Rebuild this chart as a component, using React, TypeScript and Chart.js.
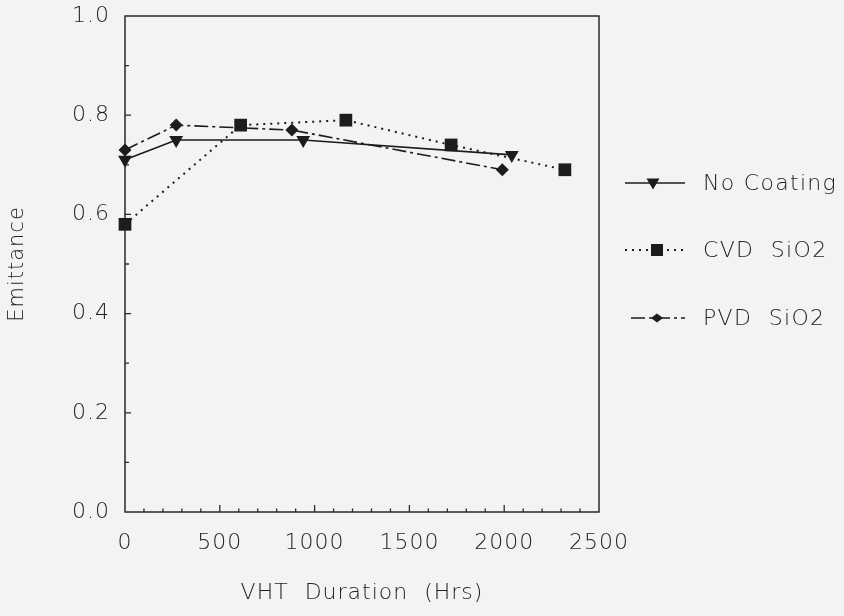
import React, { useEffect, useRef } from 'react';
import { Chart, registerables } from 'chart.js';

Chart.register(...registerables);

// ---- data ----
const seriesNames = ['No Coating', 'CVD  SiO2', 'PVD  SiO2'];
const noCoatingX = [0, 270, 940, 2040];
const noCoatingY = [0.71, 0.75, 0.75, 0.72];
const cvdX = [0, 610, 1165, 1720, 2320];
const cvdY = [0.58, 0.78, 0.79, 0.74, 0.69];
const pvdX = [0, 270, 880, 1990];
const pvdY = [0.73, 0.78, 0.77, 0.69];
const xTickValues = [0, 500, 1000, 1500, 2000, 2500];
const yTickValues = [0.0, 0.2, 0.4, 0.6, 0.8, 1.0];
const xTitle = 'VHT  Duration  (Hrs)';
const yTitle = 'Emittance';

const INK = '#1c1c1c';
const TEXT = '#222222';
const FONT = 'DejaVu Sans';
const WEIGHT = 300;

const toPoints = (xs: number[], ys: number[]) => xs.map((x, i) => ({ x, y: ys[i] }));

function drawMarker(ctx: CanvasRenderingContext2D, style: string, x: number, y: number) {
  ctx.beginPath();
  if (style === 'triangle') {
    ctx.moveTo(x - 6.5, y - 4.5);
    ctx.lineTo(x + 6.5, y - 4.5);
    ctx.lineTo(x, y + 6.5);
    ctx.closePath();
  } else if (style === 'rect') {
    ctx.rect(x - 6, y - 6, 12, 12);
  } else {
    ctx.moveTo(x - 6, y);
    ctx.lineTo(x, y - 4.5);
    ctx.lineTo(x + 6, y);
    ctx.lineTo(x, y + 4.5);
    ctx.closePath();
  }
  ctx.fill();
}

const backgroundPlugin = {
  id: 'paper',
  beforeDraw(chart: any) {
    const ctx = chart.ctx as CanvasRenderingContext2D;
    ctx.save();
    ctx.fillStyle = '#f3f3f3';
    ctx.fillRect(0, 0, chart.width, chart.height);
    ctx.restore();
    (ctx as any).letterSpacing = '1px';
  },
};

const framePlugin = {
  id: 'frame',
  beforeDatasetsDraw(chart: any) {
    const ctx = chart.ctx as CanvasRenderingContext2D;
    const { left, right, top, bottom } = chart.chartArea;
    const xs = chart.scales.x;
    const ys = chart.scales.y;
    ctx.save();
    ctx.strokeStyle = '#2a2a2a';
    ctx.lineWidth = 1.5;
    ctx.strokeRect(left, top, right - left, bottom - top);
    ctx.lineWidth = 1.3;
    ctx.beginPath();
    for (let v = 100; v < 2500; v += 100) {
      const px = xs.getPixelForValue(v);
      const len = v % 500 === 0 ? 7 : 3.5;
      ctx.moveTo(px, bottom);
      ctx.lineTo(px, bottom - len);
    }
    for (let k = 1; k < 10; k++) {
      const py = ys.getPixelForValue(k / 10);
      const len = k % 2 === 0 ? 6 : 4;
      ctx.moveTo(left, py);
      ctx.lineTo(left + len, py);
    }
    ctx.stroke();
    ctx.restore();
  },
};

const legendPlugin = {
  id: 'sideLegend',
  afterDraw(chart: any) {
    const ctx = chart.ctx as CanvasRenderingContext2D;
    const rows = [183, 250, 318];
    const styles = ['triangle', 'rect', 'rectRot'];
    chart.data.datasets.forEach((ds: any, i: number) => {
      const y = rows[i];
      ctx.save();
      ctx.strokeStyle = INK;
      ctx.fillStyle = INK;
      ctx.lineWidth = ds.borderWidth;
      ctx.setLineDash(ds.borderDash || []);
      ctx.beginPath();
      ctx.moveTo(i === 2 ? 631 : 625, y);
      ctx.lineTo(685, y);
      ctx.stroke();
      ctx.setLineDash([]);
      drawMarker(ctx, styles[i], i === 0 ? 653 : 657, y);
      ctx.fillStyle = TEXT;
      (ctx as any).letterSpacing = '1.3px';
      ctx.font = `${WEIGHT} 22px "${FONT}"`;
      ctx.textBaseline = 'middle';
      ctx.textAlign = 'left';
      ctx.fillText(ds.label, 703, y + 1);
      ctx.restore();
    });
  },
};

export default function App() {
  const ref = useRef<HTMLCanvasElement>(null);

  useEffect(() => {
    if (!ref.current) return;
    const chart = new Chart(ref.current, {
      type: 'line',
      data: {
        datasets: [
          {
            label: seriesNames[0],
            data: toPoints(noCoatingX, noCoatingY),
            borderColor: INK,
            backgroundColor: INK,
            borderWidth: 1.6,
            pointStyle: 'triangle',
            pointRotation: 180,
            pointRadius: 8,
            pointBorderWidth: 0,
            pointBackgroundColor: INK,
            clip: false,
          } as any,
          {
            label: seriesNames[1],
            data: toPoints(cvdX, cvdY),
            borderColor: INK,
            backgroundColor: INK,
            borderWidth: 2,
            borderDash: [2, 5],
            pointStyle: 'rect',
            pointRadius: 9,
            pointBorderWidth: 0,
            pointBackgroundColor: INK,
            clip: false,
          } as any,
          {
            label: seriesNames[2],
            data: toPoints(pvdX, pvdY),
            borderColor: INK,
            backgroundColor: INK,
            borderWidth: 1.6,
            borderDash: [14, 4, 3, 4],
            pointStyle: 'rectRot',
            pointRadius: 6.5,
            pointBorderWidth: 0,
            pointBackgroundColor: INK,
            clip: false,
          } as any,
        ],
      },
      options: {
        animation: false,
        responsive: false,
        devicePixelRatio: 1,
        layout: { padding: { left: 0, top: 16, right: 245, bottom: 0 } },
        plugins: { legend: { display: false }, tooltip: { enabled: false } },
        elements: { line: { tension: 0 } },
        scales: {
          x: {
            type: 'linear',
            min: 0,
            max: 2500,
            afterFit: (s: any) => {
              s.height = 104;
              s.paddingLeft = 0;
              s.paddingRight = 0;
            },
            afterBuildTicks: (s: any) => { s.ticks = xTickValues.map((v) => ({ value: v })); },
            grid: { display: false, drawTicks: false },
            border: { display: false },
            ticks: {
              autoSkip: false,
              maxRotation: 0,
              padding: 18,
              color: TEXT,
              font: { family: FONT, size: 22, weight: WEIGHT },
              callback: (v: any) => String(v),
            },
            title: {
              display: true,
              text: xTitle,
              color: TEXT,
              font: { family: FONT, size: 22, weight: WEIGHT },
              padding: { top: 0, bottom: 10 },
            },
          },
          y: {
            type: 'linear',
            min: 0,
            max: 1,
            afterFit: (s: any) => {
              s.width = 125;
              s.paddingTop = 0;
              s.paddingBottom = 0;
            },
            afterBuildTicks: (s: any) => { s.ticks = yTickValues.map((v) => ({ value: v })); },
            grid: { display: false, drawTicks: false },
            border: { display: false },
            ticks: {
              autoSkip: false,
              padding: 15,
              color: TEXT,
              font: { family: FONT, size: 22, weight: WEIGHT },
              callback: (v: any) => Number(v).toFixed(1),
            },
            title: {
              display: true,
              text: yTitle,
              color: TEXT,
              font: { family: FONT, size: 21, weight: WEIGHT },
              padding: { top: 5, bottom: 5 },
            },
          },
        },
      } as any,
      plugins: [backgroundPlugin, framePlugin, legendPlugin],
    });
    return () => chart.destroy();
  }, []);

  return (
    <div style={{ position: 'fixed', left: 0, top: 0, width: 844, height: 616 }}>
      <canvas ref={ref} width={844} height={616} style={{ display: 'block' }} />
    </div>
  );
}
